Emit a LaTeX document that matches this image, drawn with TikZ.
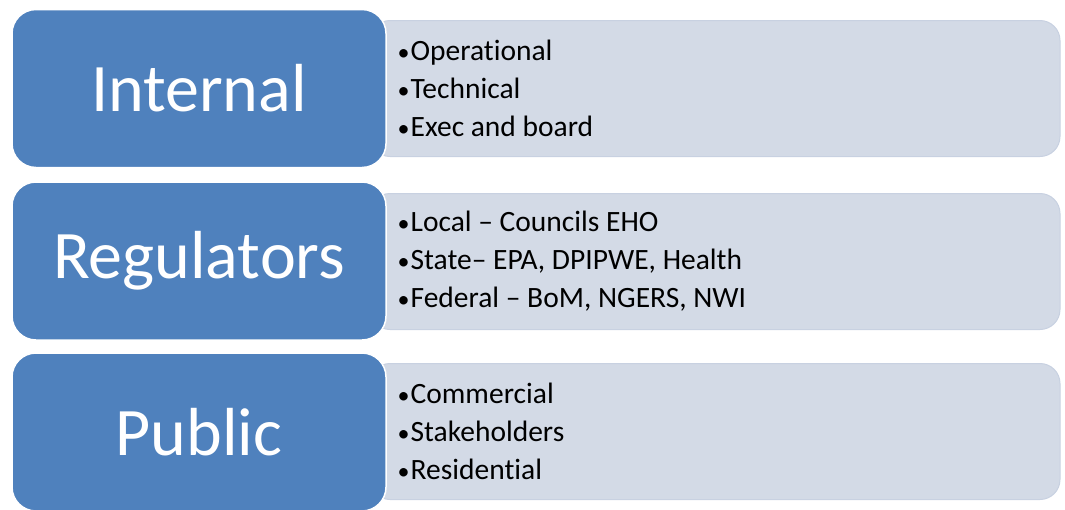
\documentclass[tikz,border=0pt]{standalone}
\usepackage{fontspec}
\setmainfont{Carlito}[Ligatures=NoCommon]
\usepackage{xcolor}
\usetikzlibrary{positioning}
\definecolor{catblue}{HTML}{4F81BD}
\definecolor{listgray}{HTML}{D3DAE6}
\definecolor{listedge}{HTML}{C8D1E1}
\newcommand{\itembul}{{\fontsize{24}{24}\selectfont\textbullet}\kern1pt}

\begin{document}
\begin{tikzpicture}[x=1pt,y=-1pt,
  cat/.style={draw=white,line width=1.5pt,fill=catblue,rounded corners=24pt,minimum width=374pt,minimum height=158pt,inner sep=0pt,text=white,font=\fontsize{68}{80}\selectfont},
  list/.style={draw=listedge,line width=1pt,fill=listgray,rounded corners=20pt,minimum width=690pt,minimum height=136pt},
  items/.style={align=left,anchor=west,inner sep=0pt,font=\fontsize{29.5}{38}\selectfont}]
\useasboundingbox (0,0) rectangle (1065,509);
% grey lists behind
\node [list] (internal list) at (715,88.5) {};
\node [list] (regulators list) at (715,261.5) {};
\node [list] (public list) at (715,431.5) {};
% blue headings
\node [cat] (internal) at (199,88.5) {Internal};
\node [cat] (regulators) at (199,261) {Regulators};
\node [cat] (public) at (199,432) {Public};
% bullet texts
\node [items,right=28pt of internal list.west] (internal items)
  {\itembul Operational\\\itembul Technical\\\itembul Exec and board};
\node [items,right=28pt of regulators list.west] (regulators items)
  {\itembul Local -- Councils EHO\\\itembul State-- EPA, DPIPWE, Health\\\itembul Federal -- BoM, NGERS, NWI};
\node [items,right=28pt of public list.west] (public items)
  {\itembul Commercial\\\itembul Stakeholders\\\itembul Residential};
\end{tikzpicture}
\end{document}
